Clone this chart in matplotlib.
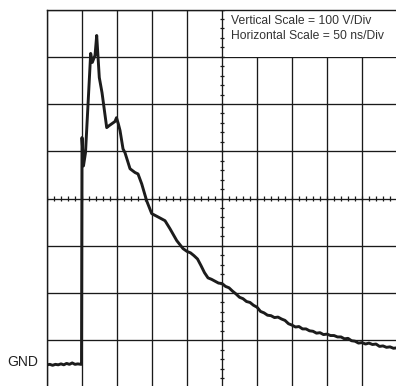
import matplotlib
matplotlib.use("Agg")
import matplotlib.pyplot as plt
import matplotlib.transforms as mtransforms
from matplotlib.patches import Rectangle
import numpy as np

plt.rcParams['font.family'] = ['Liberation Sans', 'DejaVu Sans']

# Trace: time in ns, voltage in V above GND
time_ns = [0, 4, 8, 12, 16, 20, 24, 28, 32, 36, 40, 44, 48.5, 49.3,
           50.0, 52.1, 55.0, 62.4, 64.7, 68.6, 71.0, 74.7, 78.6, 85.3, 88.6,
           92.4, 97.1, 99.3, 101.9, 104.3, 108.6, 111.4, 118.6, 125.7, 130.0,
           135.3, 142.4, 149.6, 158.6, 168.6, 175.7, 185.3, 194.3,
           200, 205, 210, 215, 220, 225, 230, 235, 240, 245, 250, 255, 260,
           265, 270, 275, 280, 285, 290, 295, 300, 305, 310, 315, 320, 325,
           330, 335, 340, 345, 350, 355, 360, 365, 370, 375, 380, 385, 390,
           395, 400, 405, 410, 415, 420, 425, 430, 435, 440, 445, 450, 455,
           460, 465, 470, 475, 480, 485, 490, 495, 500]
volts = [-2, -1, -3, -1, -2, 0, -2, 1, -1, 2, -1, 0, -1, -1,
         479, 419, 447, 657, 638, 653, 695, 606, 574, 500, 504,
         508, 513, 521, 508, 494, 455, 447, 413, 405, 402,
         381, 345, 318, 311, 303, 286, 261, 244,
         238, 235, 229, 222, 208, 193, 182, 179, 175, 171, 170, 164, 161,
         154, 148, 141, 138, 132, 130, 124, 120, 111, 108, 103, 102, 98,
         99, 95, 92, 85, 82, 78, 79, 74, 74, 70, 69, 65, 66,
         62, 63, 60, 60, 57, 57, 53, 54, 49, 48, 44, 45, 42,
         44, 41, 42, 37, 38, 35, 36, 33, 34]

x_lim = (0, 500)
y_lim = (-50, 750)
x_div = 50
y_div = 100
scale_lines = ["Vertical Scale = 100 V/Div", "Horizontal Scale = 50 ns/Div"]
gnd_label = "GND"

W, H = 396, 386
fig = plt.figure(figsize=(W / 100, H / 100), dpi=100)
ax = fig.add_axes([47 / W, 1 - 387.5 / H, 350 / W, 378 / H])
ax.set_xlim(*x_lim)
ax.set_ylim(*y_lim)

xt = np.arange(x_lim[0], x_lim[1] + 1, x_div)
yt = np.arange(y_lim[0], y_lim[1] + 1, y_div)
ax.set_xticks(xt)
ax.set_yticks(yt)
ax.tick_params(length=0, labelbottom=False, labelleft=False)
ax.grid(True, color='#1a1a1a', linewidth=0.95)
for s in ax.spines.values():
    s.set_color('#1a1a1a')
    s.set_linewidth(1.0)

# centre cross minor ticks
xc = (x_lim[0] + x_lim[1]) / 2
yc = (y_lim[0] + y_lim[1]) / 2
minor_x = np.arange(x_lim[0], x_lim[1] + 0.01, x_div / 5)
minor_y = np.arange(y_lim[0], y_lim[1] + 0.01, y_div / 5)
dy = 2.3 * (y_lim[1] - y_lim[0]) / 378
dx = 2.3 * (x_lim[1] - x_lim[0]) / 350

# white box behind the scale text (hides grid there)
ax.add_patch(Rectangle((xc + dx * 1.3, y_lim[1] - y_div), x_lim[1] - xc,
                       y_div - 3, facecolor='white', edgecolor='none',
                       zorder=1.8))

ax.vlines(minor_x, yc - dy, yc + dy, color='#1a1a1a', linewidth=0.9, zorder=2.5)
ax.hlines(minor_y, xc - dx, xc + dx, color='#1a1a1a', linewidth=0.9, zorder=2.5)

ax.plot(time_ns, volts, color='#1c1c1c', linewidth=2.1,
        solid_joinstyle='round', zorder=3)

# GND label
off = mtransforms.offset_copy(ax.transData, fig=fig, x=-9, y=2, units='dots')
ax.text(0, 0, gnd_label, transform=off, ha='right', va='center',
        fontsize=10, color='#222222', clip_on=False)

fig.text(231 / W, 1 - 23.5 / H, scale_lines[0], fontsize=8.7,
         color='#333333', va='baseline', ha='left')
fig.text(231 / W, 1 - 38.8 / H, scale_lines[1], fontsize=8.7,
         color='#333333', va='baseline', ha='left')

fig.savefig('out.png', dpi=100)
